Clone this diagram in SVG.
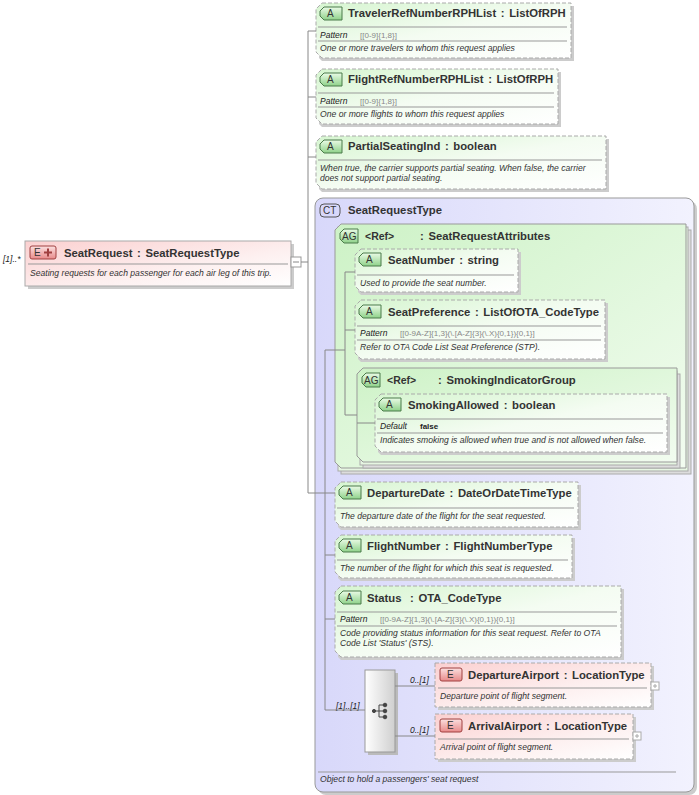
<svg xmlns="http://www.w3.org/2000/svg" width="699" height="795" viewBox="0 0 699 795">
<defs>
<linearGradient id="gA" x1="0" y1="0" x2="1" y2="1"><stop offset="0" stop-color="#d6f5d0"/><stop offset="0.5" stop-color="#f4fcf2"/><stop offset="1" stop-color="#ffffff"/></linearGradient>
<linearGradient id="gE" x1="0" y1="0" x2="1" y2="1"><stop offset="0" stop-color="#fbd0d0"/><stop offset="0.6" stop-color="#fdf0f0"/><stop offset="1" stop-color="#ffffff"/></linearGradient>
<linearGradient id="gCT" x1="0" y1="0" x2="1" y2="0"><stop offset="0" stop-color="#d8d8fa"/><stop offset="1" stop-color="#f2f2fe"/></linearGradient>
<linearGradient id="gAG" x1="0" y1="0" x2="1" y2="1"><stop offset="0" stop-color="#cdf2c6"/><stop offset="1" stop-color="#f2fcf0"/></linearGradient>
<linearGradient id="gSeq" x1="0" y1="0" x2="1" y2="0"><stop offset="0" stop-color="#ffffff"/><stop offset="1" stop-color="#cfcfcf"/></linearGradient>
<linearGradient id="gBadgeA" x1="0" y1="0" x2="0" y2="1"><stop offset="0" stop-color="#eafbe6"/><stop offset="1" stop-color="#8fd28a"/></linearGradient>
<linearGradient id="gBadgeE" x1="0" y1="0" x2="0" y2="1"><stop offset="0" stop-color="#fbe0e0"/><stop offset="1" stop-color="#e88a8a"/></linearGradient>
</defs>
<style>
.t{font-family:"Liberation Sans",Arial,sans-serif;font-size:11.3px;font-weight:bold;fill:#333;word-spacing:1.5px}
.d{font-family:"Liberation Sans",Arial,sans-serif;font-size:8.6px;font-style:italic;fill:#333}
.p{font-family:"Liberation Sans",Arial,sans-serif;font-size:8px;fill:#888}
.pl{font-family:"Liberation Sans",Arial,sans-serif;font-size:8.5px;font-style:italic;fill:#222}
.b{font-family:"Liberation Sans",Arial,sans-serif;font-size:10.5px;font-weight:bold;fill:#333}
.attr{fill:url(#gA);stroke:#aaa;stroke-dasharray:4,2;stroke-width:1}
.el{fill:url(#gE);stroke:#aaa;stroke-width:1}
.eld{fill:url(#gE);stroke:#aaa;stroke-dasharray:4,2;stroke-width:1}
.sh{fill:#ccc}
.div{stroke:#999;stroke-width:1}
.ln{stroke:#888;stroke-width:1;fill:none}
.ba{fill:url(#gBadgeA);stroke:#4a7a4a;stroke-width:1}
.be{fill:url(#gBadgeE);stroke:#a04040;stroke-width:1}
.bt{font-family:"Liberation Sans",Arial,sans-serif;font-size:10px;fill:#333}
.ag{fill:url(#gAG);stroke:#999;stroke-width:1}
</style>

<g id="SeatRequest">
<rect x="28" y="244" width="266" height="45" class="sh"/>
<rect x="25" y="241" width="266" height="45" class="el"/>
<rect x="30" y="246" width="26" height="13" rx="2" class="be"/>
<text x="34" y="256" class="bt">E</text>
<path d="M44,252.5 H52 M48,248.5 V256.5" stroke="#a04040" stroke-width="2"/>
<text x="64" y="257" class="t">SeatRequest : SeatRequestType</text>
<line x1="28" y1="264" x2="288" y2="264" class="div"/>
<text x="30" y="276" class="d">Seating requests for each passenger for each air leg of this trip.</text>
<rect x="291" y="257" width="10" height="10" fill="#fff" stroke="#999"/>
<line x1="293" y1="262" x2="299" y2="262" stroke="#888"/>
<text x="3" y="262" class="pl">[1]..*</text>
</g>

<g id="TravelerRefNumberRPHList">
<path d="M322,6 H574 V61 H322 L319,58 V9 Z" class="sh"/>
<path d="M322,3 H571 V58 H322 L316,52 V9 Z" class="attr"/>
<path d="M324,7 H342 V20 H324 L320,16 V11 Z" class="ba"/><text x="327" y="17" class="bt">A</text>
<text x="348" y="17" class="t">TravelerRefNumberRPHList : ListOfRPH</text>
<line x1="318" y1="27" x2="567" y2="27" class="div"/>
<text x="320" y="38" class="pl">Pattern</text><text x="360" y="38" class="p">[[0-9]{1,8}]</text>
<line x1="318" y1="41" x2="567" y2="41" class="div"/>
<text x="320" y="51" class="d">One or more travelers to whom this request applies</text>
</g>

<g id="FlightRefNumberRPHList">
<path d="M322,72 H561 V127 H322 L319,124 V75 Z" class="sh"/>
<path d="M322,69 H558 V124 H322 L316,118 V75 Z" class="attr"/>
<path d="M324,73 H342 V86 H324 L320,82 V77 Z" class="ba"/><text x="327" y="83" class="bt">A</text>
<text x="348" y="83" class="t">FlightRefNumberRPHList : ListOfRPH</text>
<line x1="318" y1="93" x2="554" y2="93" class="div"/>
<text x="320" y="104" class="pl">Pattern</text><text x="360" y="104" class="p">[[0-9]{1,8}]</text>
<line x1="318" y1="107" x2="554" y2="107" class="div"/>
<text x="320" y="117" class="d">One or more flights to whom this request applies</text>
</g>

<g id="PartialSeatingInd">
<path d="M322,139 H609 V192 H322 L319,189 V142 Z" class="sh"/>
<path d="M322,136 H606 V189 H322 L316,183 V142 Z" class="attr"/>
<path d="M324,140 H342 V153 H324 L320,149 V144 Z" class="ba"/><text x="327" y="150" class="bt">A</text>
<text x="348" y="150" class="t">PartialSeatingInd : boolean</text>
<line x1="318" y1="160" x2="602" y2="160" class="div"/>
<text x="320" y="171" class="d">When true, the carrier supports partial seating. When false, the carrier</text>
<text x="320" y="181" class="d">does not support partial seating.</text>
</g>

<g id="SeatRequestType">
<rect x="318" y="201" width="379" height="594" rx="8" fill="#ccc"/>
<rect x="315" y="198" width="379" height="594" rx="8" fill="url(#gCT)" stroke="#999"/>
<rect x="320" y="204" width="20" height="13" rx="4" fill="#d8d8fa" stroke="#555"/>
<text x="323" y="214" class="bt">CT</text>
<text x="348" y="214" class="t">SeatRequestType</text>
<line x1="318" y1="772" x2="676" y2="772" class="div"/>
<text x="320" y="782" class="d">Object to hold a passengers' seat request</text>
</g>

<g id="SeatRequestAttributes">
<rect x="341" y="230" width="350" height="244" fill="#ddd" stroke="#aaa"/>
<rect x="338" y="227" width="350" height="244" fill="#e6f6e2" stroke="#aaa"/>
<path d="M341,224 H686 V468 H341 L335,462 V230 Z" class="ag"/>
<path d="M344,229 H358 V243 H344 L340,239 V233 Z" class="ba"/><text x="342" y="240" class="bt">AG</text>
<text x="365" y="240" class="b">&lt;Ref&gt;</text>
<text x="420" y="240" class="t">: SeatRequestAttributes</text>
</g>

<g id="SeatNumber">
<path d="M361,252 H521 V295 H361 L358,292 V255 Z" class="sh"/>
<path d="M361,249 H518 V292 H361 L355,286 V255 Z" class="attr"/>
<path d="M363,253 H381 V266 H363 L359,262 V257 Z" class="ba"/><text x="366" y="263" class="bt">A</text>
<text x="388" y="264" class="t">SeatNumber : string</text>
<line x1="357" y1="275" x2="514" y2="275" class="div"/>
<text x="360" y="286" class="d">Used to provide the seat number.</text>
</g>

<g id="SeatPreference">
<path d="M361,303 H608 V362 H361 L358,359 V306 Z" class="sh"/>
<path d="M361,300 H605 V359 H361 L355,353 V306 Z" class="attr"/>
<path d="M363,305 H381 V318 H363 L359,314 V309 Z" class="ba"/><text x="366" y="315" class="bt">A</text>
<text x="388" y="316" class="t">SeatPreference : ListOfOTA_CodeType</text>
<line x1="357" y1="326" x2="601" y2="326" class="div"/>
<text x="360" y="336" class="pl">Pattern</text><text x="400" y="336" class="p">[[0-9A-Z]{1,3}(\.[A-Z]{3}(\.X){0,1}){0,1}]</text>
<line x1="357" y1="340" x2="601" y2="340" class="div"/>
<text x="360" y="350" class="d">Refer to OTA Code List Seat Preference (STP).</text>
</g>

<g id="SmokingIndicatorGroup">
<rect x="363" y="374" width="317" height="94" fill="#ddd" stroke="#aaa"/>
<rect x="360" y="371" width="317" height="94" fill="#e6f6e2" stroke="#aaa"/>
<path d="M363,368 H677 V462 H363 L357,456 V374 Z" class="ag"/>
<path d="M366,373 H380 V387 H366 L362,383 V377 Z" class="ba"/><text x="364" y="384" class="bt">AG</text>
<text x="387" y="384" class="b">&lt;Ref&gt;</text>
<text x="438" y="384" class="t">: SmokingIndicatorGroup</text>
</g>

<g id="SmokingAllowed">
<path d="M381,397 H670 V455 H381 L378,452 V400 Z" class="sh"/>
<path d="M381,394 H667 V452 H381 L375,446 V400 Z" class="attr"/>
<path d="M383,398 H401 V411 H383 L379,407 V402 Z" class="ba"/><text x="386" y="408" class="bt">A</text>
<text x="408" y="409" class="t">SmokingAllowed : boolean</text>
<line x1="377" y1="419" x2="663" y2="419" class="div"/>
<text x="380" y="429" class="pl">Default</text><text x="420" y="429" font-family="Liberation Sans,Arial,sans-serif" font-size="8px" font-weight="bold" fill="#222">false</text>
<line x1="377" y1="433" x2="663" y2="433" class="div"/>
<text x="380" y="443" class="d">Indicates smoking is allowed when true and is not allowed when false.</text>
</g>

<g id="DepartureDate">
<path d="M341,485 H581 V530 H341 L338,527 V488 Z" class="sh"/>
<path d="M341,482 H578 V527 H341 L335,521 V488 Z" class="attr"/>
<path d="M343,486 H361 V499 H343 L339,495 V490 Z" class="ba"/><text x="346" y="496" class="bt">A</text>
<text x="367" y="497" class="t">DepartureDate : DateOrDateTimeType</text>
<line x1="337" y1="508" x2="574" y2="508" class="div"/>
<text x="340" y="519" class="d">The departure date of the flight for the seat requested.</text>
</g>

<g id="FlightNumber">
<path d="M341,538 H575 V581 H341 L338,578 V541 Z" class="sh"/>
<path d="M341,535 H572 V578 H341 L335,572 V541 Z" class="attr"/>
<path d="M343,539 H361 V552 H343 L339,548 V543 Z" class="ba"/><text x="346" y="549" class="bt">A</text>
<text x="367" y="550" class="t">FlightNumber : FlightNumberType</text>
<line x1="337" y1="560" x2="568" y2="560" class="div"/>
<text x="340" y="571" class="d">The number of the flight for which this seat is requested.</text>
</g>

<g id="Status">
<path d="M341,589 H624 V660 H341 L338,657 V592 Z" class="sh"/>
<path d="M341,586 H621 V657 H341 L335,651 V592 Z" class="attr"/>
<path d="M343,591 H361 V604 H343 L339,600 V595 Z" class="ba"/><text x="346" y="601" class="bt">A</text>
<text x="367" y="602" class="t">Status</text><text x="410" y="602" class="t">: OTA_CodeType</text>
<line x1="337" y1="612" x2="617" y2="612" class="div"/>
<text x="340" y="622" class="pl">Pattern</text><text x="380" y="622" class="p">[[0-9A-Z]{1,3}(\.[A-Z]{3}(\.X){0,1}){0,1}]</text>
<line x1="337" y1="626" x2="617" y2="626" class="div"/>
<text x="340" y="636" class="d">Code providing status information for this seat request. Refer to OTA</text>
<text x="340" y="646" class="d">Code List 'Status' (STS).</text>
</g>

<g id="Sequence">
<rect x="368" y="673" width="30" height="82" fill="#bbb"/>
<rect x="365" y="670" width="30" height="82" fill="url(#gSeq)" stroke="#999"/>
<g fill="#444" stroke="#444">
<circle cx="374" cy="711" r="1.6"/>
<path d="M375,711 H379 M379,705 V717 M379,705 H384 M379,711 H384 M379,717 H384" fill="none"/>
<circle cx="385" cy="705" r="1.8"/><circle cx="385" cy="711" r="1.8"/><circle cx="385" cy="717" r="1.8"/>
</g>
<text x="336" y="709" class="pl">[1]..[1]</text>
<text x="410" y="683" class="pl">0..[1]</text>
<text x="410" y="733" class="pl">0..[1]</text>
</g>

<g id="DepartureAirport">
<rect x="438" y="666" width="216" height="44" class="sh"/>
<rect x="435" y="663" width="216" height="44" class="eld"/>
<rect x="440" y="668" width="22" height="13" rx="2" class="be"/><text x="447" y="678" class="bt">E</text>
<text x="468" y="679" class="t">DepartureAirport : LocationType</text>
<line x1="438" y1="688" x2="647" y2="688" class="div"/>
<text x="440" y="699" class="d">Departure point of flight segment.</text>
<rect x="651" y="682" width="8" height="8" fill="#fff" stroke="#aaa"/>
<path d="M653,686 H657 M655,684 V688" stroke="#aaa"/>
</g>

<g id="ArrivalAirport">
<rect x="438" y="717" width="198" height="45" class="sh"/>
<rect x="435" y="714" width="198" height="45" class="eld"/>
<rect x="440" y="719" width="22" height="13" rx="2" class="be"/><text x="447" y="729" class="bt">E</text>
<text x="468" y="730" class="t">ArrivalAirport : LocationType</text>
<line x1="438" y1="739" x2="629" y2="739" class="div"/>
<text x="440" y="750" class="d">Arrival point of flight segment.</text>
<rect x="633" y="732" width="8" height="8" fill="#fff" stroke="#aaa"/>
<path d="M635,736 H639 M637,734 V738" stroke="#aaa"/>
</g>

<g id="connectors">
<path class="ln" d="M301,262 H308 M308,31 V493 H325 M308,31 H316 M308,97 H316 M308,157 H316"/>
<path class="ln" d="M325,350 V710 M325,350 H345 M325,493 H335 M325,555 H335 M325,619 H335 M325,710 H365"/>
<path class="ln" d="M345,272 V415 M345,272 H355 M345,330 H355 M345,415 H357"/>
<path class="ln" d="M357,423 H375"/>
<path class="ln" d="M395,686 H435 M395,736 H435"/>
</g>
</svg>
